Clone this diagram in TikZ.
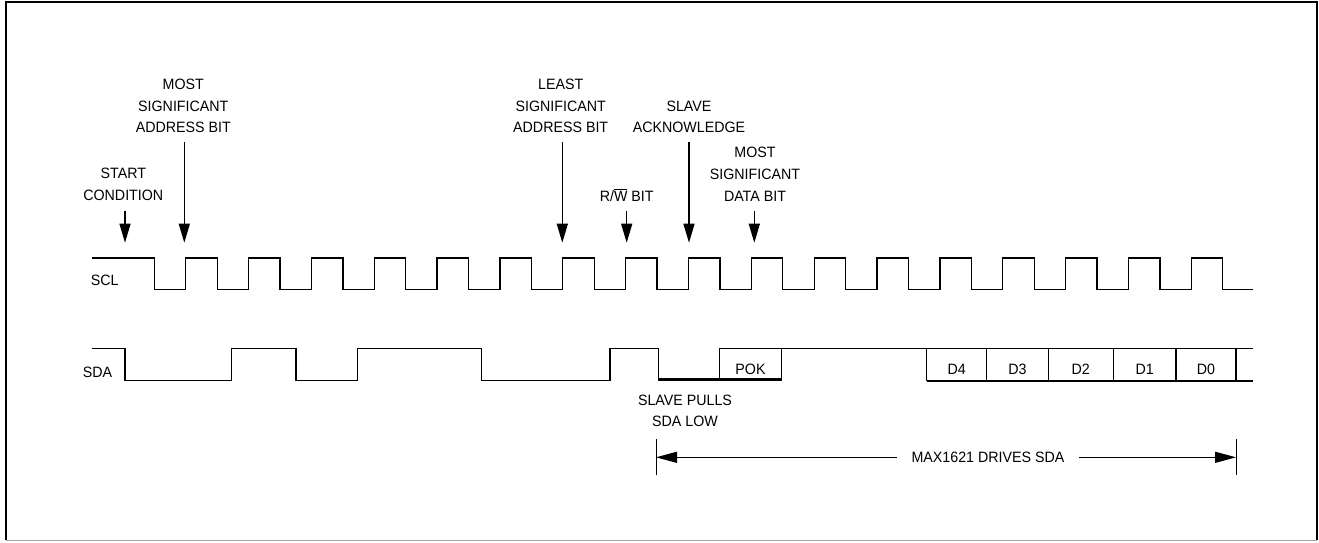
\documentclass[tikz,border=0pt]{standalone}
\usepackage{fontspec}
\setmainfont{Liberation Sans}[FakeStretch=0.95]
\usetikzlibrary{arrows.meta}
\begin{document}
\begin{tikzpicture}[x=1pt,y=-1pt,
  wave/.style={line width=1.3pt, line join=miter},
  lbl/.style={font=\fontsize{15}{21.7}\selectfont, align=center, inner sep=0pt},
  ptr/.style={line width=1.3pt, -{Triangle[length=19pt,width=11pt]}},
  tick/.style={line width=0.9pt},
]
\useasboundingbox (0,0) rectangle (1319,542);
% frame
\draw[line width=2pt] (6,540) -- (6,2) -- (1317,2) -- (1317,540);
\draw[line width=1pt, black!35] (6,540.7) -- (1317,540.7);

% SCL waveform
\draw[wave] (92,258) -- (154.3,258)
  foreach \k in {0,...,16}{ |- ({185.7+62.85*\k},289.5) |- ({217.15+62.85*\k},258) }
  |- (1253.3,289.5);
\node[lbl, anchor=base west] (scl) at (90.7,285.4) {SCL};

% SDA waveform
\draw[wave] (91.7,348.7) -| (125,380.3) -| (231.7,348.7) -| (296,380.3)
  -| (357.7,348.7) -| (481.7,380.3) -| (610,348.7) -| (658.3,380.3) -- (719.3,380.3);
\draw[line width=3pt] (658.3,379.6) -- (781.7,379.6);
\draw[wave] (719.3,380.3) -- (719.3,348.7) -- (926.7,348.7);
\draw[wave] (781.7,348.7) -- (781.7,380.3);
\draw[wave] (926.7,348.7) -- (1253.3,348.7);
\draw[line width=2pt] (926.7,380.6) -- (1253.3,380.6);
\foreach \x in {926.7,986.7,1048.3,1113.3,1176,1236}
  \draw[wave] (\x,348.7) -- (\x,381.4);
\node[lbl, anchor=base west] (sda) at (82.7,377.7) {SDA};
\node[lbl, anchor=base] (pok) at (750.5,374.4) {POK};
\node[lbl, anchor=base] (d4) at (956.7,374.7) {D4};
\node[lbl, anchor=base] (d3) at (1017.5,374.7) {D3};
\node[lbl, anchor=base] (d2) at (1080.8,374.7) {D2};
\node[lbl, anchor=base] (d1) at (1144.7,374.7) {D1};
\node[lbl, anchor=base] (d0) at (1206,374.7) {D0};

% labels and pointers
\node[lbl, anchor=south] (start) at (123.3,200.4) {START\\CONDITION};
\coordinate (start-a) at (125,210.7);
\coordinate (start-b) at (125,242.7);
\draw[ptr] (start-a) -- (start-b);

\node[lbl, anchor=south] (msa) at (183.3,133.1) {MOST\\SIGNIFICANT\\ADDRESS BIT};
\coordinate (msa-a) at (184.3,141.7);
\coordinate (msa-b) at (184.3,242.7);
\draw[ptr] (msa-a) -- (msa-b);

\node[lbl, anchor=south] (lsa) at (560.7,133.1) {LEAST\\SIGNIFICANT\\ADDRESS BIT};
\coordinate (lsa-a) at (562.3,141.7);
\coordinate (lsa-b) at (562.3,242.7);
\draw[ptr] (lsa-a) -- (lsa-b);

\node[lbl, anchor=south] (rw) at (626.7,201.4) {R/$\overline{\hbox{W}}$ BIT};
\coordinate (rw-a) at (626.7,211);
\coordinate (rw-b) at (626.7,242.7);
\draw[ptr] (rw-a) -- (rw-b);

\node[lbl, anchor=south] (ack) at (689,133.1) {SLAVE\\ACKNOWLEDGE};
\coordinate (ack-a) at (689,141.7);
\coordinate (ack-b) at (689,242.7);
\draw[ptr] (ack-a) -- (ack-b);

\node[lbl, anchor=south] (msd) at (755,201.4) {MOST\\SIGNIFICANT\\DATA BIT};
\coordinate (msd-a) at (754.3,211);
\coordinate (msd-b) at (754.3,242.7);
\draw[ptr] (msd-a) -- (msd-b);

\node[lbl, anchor=south] (pull) at (685,427.1) {SLAVE PULLS\\SDA LOW};

% MAX1621 drives SDA
\coordinate (lt1) at (656,439);
\coordinate (lt2) at (656,475);
\coordinate (rt1) at (1236,439);
\coordinate (rt2) at (1236,475);
\draw[tick] (lt1) -- (lt2);
\draw[tick] (rt1) -- (rt2);
\node[lbl, inner xsep=14pt, text height=10.7pt, text depth=0pt] (max) at (988,457.3) {MAX1621 DRIVES SDA};
\coordinate (lend) at (656,457.3);
\coordinate (rend) at (1236,457.3);
\draw[ptr, -{Triangle[length=21pt,width=11pt]}] (max.west) -- (lend);
\draw[ptr, -{Triangle[length=21pt,width=11pt]}] (max.east) -- (rend);
\end{tikzpicture}
\end{document}
